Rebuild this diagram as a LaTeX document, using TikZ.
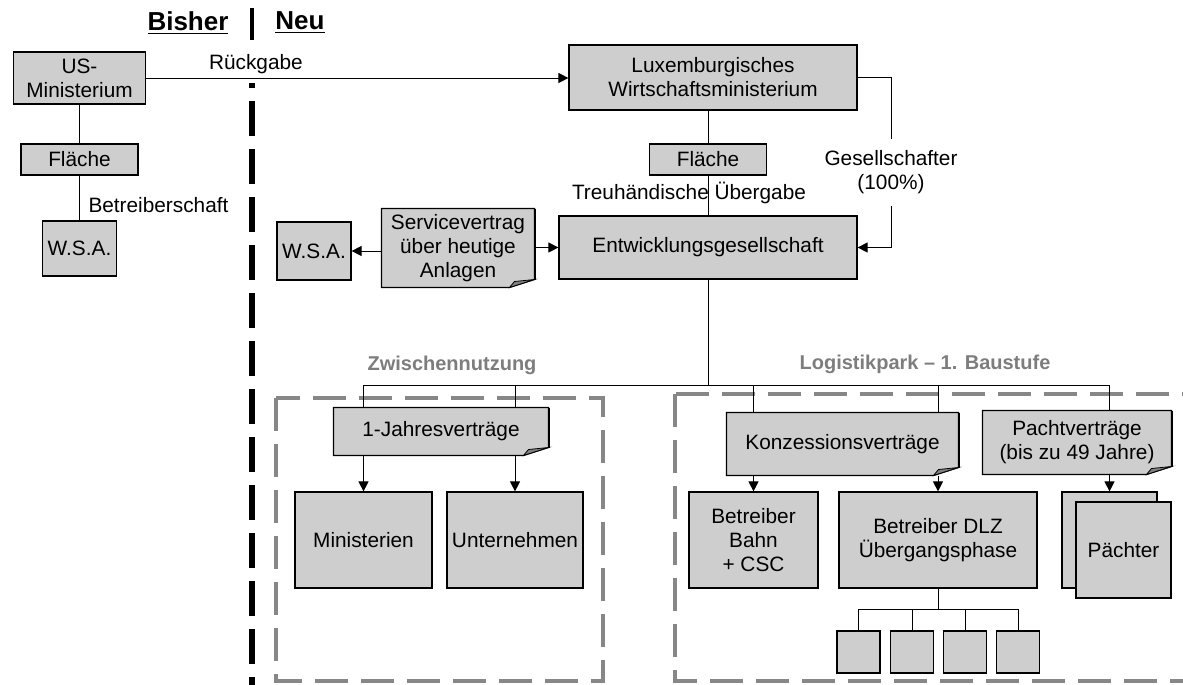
\documentclass[tikz,border=0pt]{standalone}
\usepackage{fontspec}
\setmainfont{Liberation Sans}
\usepackage{xcolor}
\usepackage{tikz}
\usetikzlibrary{arrows.meta,positioning}

\definecolor{boxgray}{RGB}{206,206,206}
\definecolor{lblgray}{RGB}{125,125,125}
\definecolor{framegray}{RGB}{135,135,135}

\newcommand{\notefold}[1]{%
\fill[white] ([xshift=-12.5pt]#1.south east) -- ([xshift=.5pt,yshift=-.5pt]#1.south east) -- ([yshift=4pt]#1.south east) -- cycle;
\draw[line width=.6pt] (#1.north west) -- (#1.north east) -- ([yshift=4pt]#1.south east) -- ([xshift=-12.5pt]#1.south east) -- (#1.south west) -- cycle;
\draw[line width=1pt] (#1.north east) -- ([yshift=4pt]#1.south east);
\filldraw[fill=gray, line width=.4pt] ([xshift=-12.5pt]#1.south east) -- ([xshift=-10pt,yshift=3pt]#1.south east) -- ([yshift=4pt]#1.south east) -- cycle;}

\begin{document}
\begin{tikzpicture}[x=0.5pt, y=-0.5pt, line width=.5pt]
\tikzstyle{box} = [draw, fill=boxgray, line width=.6pt, inner sep=0pt, align=center, font=\fontsize{10.4pt}{12pt}\selectfont]
\tikzstyle{note} = [fill=boxgray, inner sep=0pt, align=center, font=\fontsize{10.4pt}{12pt}\selectfont]
\tikzstyle{lbl} = [inner sep=1pt, align=center, font=\fontsize{10.4pt}{12pt}\selectfont]
\tikzstyle{title} = [inner sep=1pt, font=\fontsize{13pt}{15pt}\selectfont\bfseries]
\tikzstyle{grp} = [inner sep=1pt, text=lblgray, font=\fontsize{10pt}{12pt}\selectfont\bfseries]
\tikzstyle{arr} = [-{Triangle[length=5pt,width=5pt]}]
\tikzstyle{divider} = [line width=2.6pt, dash pattern=on 17.5pt off 6.5pt, dash phase=15pt]
\tikzstyle{frame} = [draw=framegray, line width=2.2pt, dash pattern=on 16.5pt off 6.5pt]
\useasboundingbox (0,0) rectangle (1183,685);
\clip (0,0) rectangle (1183,685);

\node[title] (bisher) at (188,23) {\underline{Bisher}};
\node[title] (neu) at (300,23) {\underline{Neu}};
\draw[line width=2pt] (252,8) -- (252,40);
\draw[divider] (252,83) -- (252,690);

\draw[frame] (276,398) rectangle (603,681);
\draw[frame] (675,394) rectangle (1210,681);

\node[box, minimum width=66pt, minimum height=26pt] (usmin) at (79.5,78) {US-\\Ministerium};
\node[box, minimum width=58.5pt, minimum height=15.5pt] (fl1) at (79.5,159.5) {Fläche};
\node[box, minimum width=37pt, minimum height=27.5pt] (wsa1) at (79.5,248.5) {W.S.A.};
\draw (usmin) -- (fl1);
\draw (fl1) -- (wsa1);
\node[lbl, anchor=west] (betr) at (86,205) {Betreiberschaft};

\node[box, minimum width=144pt, minimum height=32.5pt] (lux) at (713,77.5) {Luxemburgisches\\Wirtschaftsministerium};
\draw[arr] (usmin.east) -- node[lbl, pos=.26, above=1pt] (rueck) {Rückgabe} (usmin.east -| lux.west);
\node[box, minimum width=58.5pt, minimum height=15.5pt] (fl2) at (708,159.5) {Fläche};
\node[box, minimum width=149pt, minimum height=31.5pt] (entw) at (708,247.5) {Entwicklungsgesellschaft};
\node[lbl] (treu) at (689,193) {Treuhändische Übergabe};
\draw (fl2.north |- lux.south) -- (fl2);
\draw (fl2) -- (entw);
\node[lbl, minimum height=33pt, inner sep=0pt] (ges) at (891,172) {Gesellschafter\\(100\%)};
\draw (lux.east) -| (ges.north);
\draw[arr] (ges.south) |- (entw.east);

\node[note, minimum width=76pt, minimum height=39pt] (svc) at (458,248) {Servicevertrag\\über heutige\\Anlagen};
\notefold{svc}
\node[box, minimum width=37pt, minimum height=29pt] (wsa2) at (314,251) {W.S.A.};
\draw[arr] (svc.west |- wsa2) -- (wsa2.east);
\draw[arr] (svc.east |- entw) -- (entw.west);

\node[grp] (zw) at (452,365) {Zwischennutzung};
\node[grp] (logi) at (925,364) {Logistikpark -- 1. Baustufe};

\node[note, minimum width=107pt, minimum height=23.5pt] (jahr) at (441,431.5) {1-Jahresverträge};
\notefold{jahr}
\node[box, minimum width=68.5pt, minimum height=48pt] (minis) at (363.5,540) {Ministerien};
\node[box, minimum width=68pt, minimum height=48pt] (untern) at (515,540) {Unternehmen};

\node[note, minimum width=115.5pt, minimum height=31pt] (konz) at (842.5,444) {Konzessionsverträge};
\notefold{konz}
\node[note, minimum width=94pt, minimum height=31.5pt] (pacht) at (1077,442.5) {Pachtverträge\\(bis zu 49 Jahre)};
\notefold{pacht}
\node[box, minimum width=64.5pt, minimum height=48pt] (bahn) at (753.5,540) {Betreiber\\Bahn\\+ CSC};
\node[box, minimum width=99pt, minimum height=48pt] (dlz) at (938,540) {Betreiber DLZ\\Übergangsphase};
\node[box, minimum width=47.5pt, minimum height=48pt] (pa1) at (1109.5,540) {};
\node[box, minimum width=47.5pt, minimum height=48pt] (pa2) at (1123.5,550) {Pächter};

\coordinate (bus) at (708,385);
\draw (entw) -- (bus);
\draw (minis |- bus) -- (pa1 |- bus);
\foreach \n/\c in {minis/jahr, untern/jahr, bahn/konz, dlz/konz, pa1/pacht} {
  \draw (\n |- bus) -- (\n |- \c.north);
  \draw[arr] (\n |- \c.south) -- (\n.north);
}

\coordinate (sub) at (938,609);
\foreach \i/\x in {1/858.5, 2/912, 3/965, 4/1018}
  \node[box, minimum width=21.5pt, minimum height=21pt] (s\i) at (\x,652) {};
\draw (dlz) -- (sub);
\draw (s1 |- sub) -- (s4 |- sub);
\foreach \i in {1,...,4}
  \draw (s\i |- sub) -- (s\i);
\end{tikzpicture}
\end{document}
